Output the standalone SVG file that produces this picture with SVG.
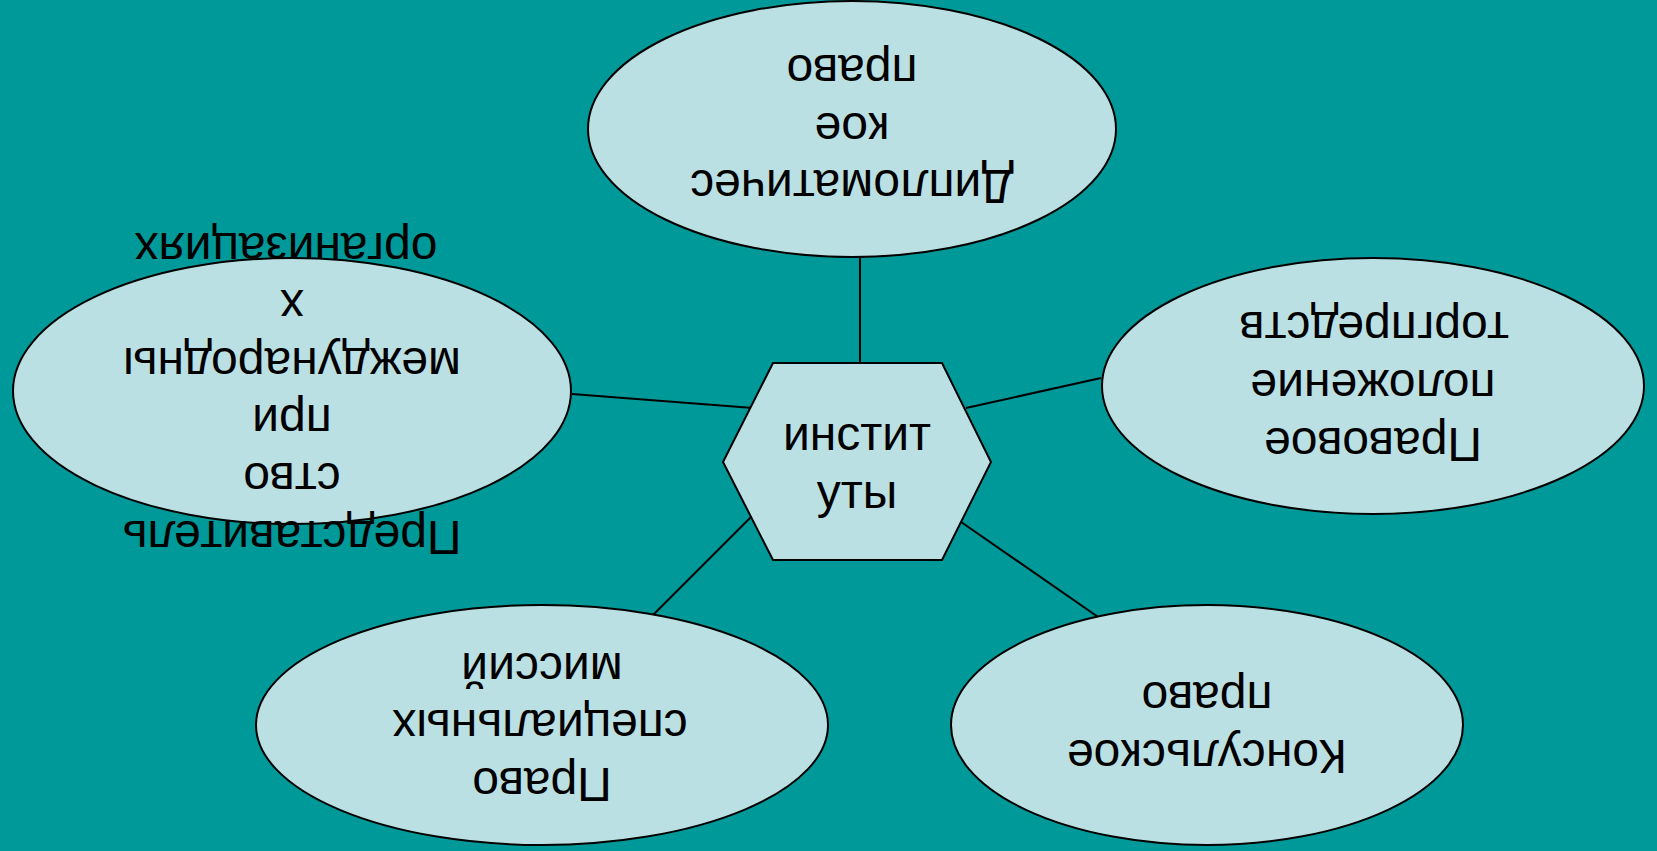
<svg xmlns="http://www.w3.org/2000/svg" width="1657" height="851" viewBox="0 0 1657 851">
<style>
.shape{fill:#BBE0E3;stroke:#000;stroke-width:2}
.conn line{stroke:#000;stroke-width:2}
text{font-family:"Liberation Sans",Arial,sans-serif;font-size:48px;fill:#000;text-anchor:middle}
</style>
<rect x="0" y="0" width="1657" height="851" fill="#009999"/>
<g id="connectors" class="conn">
<line x1="860" y1="257" x2="860" y2="364"/>
<line x1="572" y1="394" x2="753" y2="408"/>
<line x1="1101" y1="378" x2="966" y2="408"/>
<line x1="649" y1="619" x2="753" y2="515"/>
<line x1="1101" y1="619" x2="951" y2="515"/>
</g>
<g id="node-top">
<ellipse class="shape" cx="852" cy="129" rx="264" ry="128"/>
<text transform="rotate(180 852 170)" x="852" y="170">Дипломатичес</text>
<text transform="rotate(180 852 113)" x="852" y="113">кое</text>
<text transform="rotate(180 852 55)" x="852" y="55">право</text>
</g>
<g id="node-left">
<ellipse class="shape" cx="292" cy="391" rx="279" ry="133"/>
<text transform="rotate(180 292 521)" x="292" y="521">Представитель</text>
<text transform="rotate(180 292 463)" x="292" y="463">ство</text>
<text transform="rotate(180 292 405)" x="292" y="405">при</text>
<text transform="rotate(180 292 348)" x="292" y="348">международны</text>
<text transform="rotate(180 292 290)" x="292" y="290">х</text>
<text transform="rotate(180 286 233)" x="286" y="233">организациях</text>
</g>
<g id="node-right">
<ellipse class="shape" cx="1373" cy="386" rx="271" ry="128"/>
<text transform="rotate(180 1373 428)" x="1373" y="428">Правовое</text>
<text transform="rotate(180 1373 370)" x="1373" y="370">положение</text>
<text transform="rotate(180 1374 312)" x="1374" y="312">торгпредств</text>
</g>
<g id="node-bottom-left">
<ellipse class="shape" cx="542" cy="725" rx="286" ry="120"/>
<text transform="rotate(180 542 768)" x="542" y="768">Право</text>
<text transform="rotate(180 540 710)" x="540" y="710">специальных</text>
<text transform="rotate(180 542 653)" x="542" y="653">миссий</text>
</g>
<g id="node-bottom-right">
<ellipse class="shape" cx="1207" cy="725" rx="256" ry="120"/>
<text transform="rotate(180 1207 740)" x="1207" y="740">Консульское</text>
<text transform="rotate(180 1207 682)" x="1207" y="682">право</text>
</g>
<g id="node-center">
<polygon class="shape" points="773,363 942,363 991,462 942,560 773,560 723,462"/>
<text x="857" y="450">инстит</text>
<text x="857" y="508">уты</text>
</g>
</svg>
